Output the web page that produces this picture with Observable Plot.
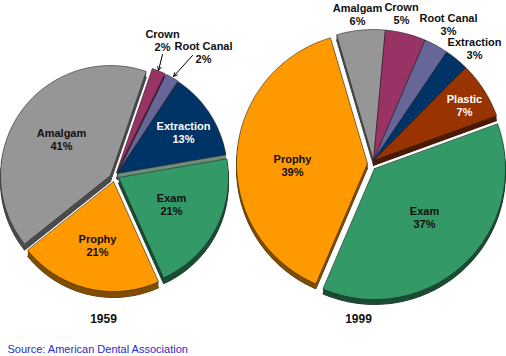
<!DOCTYPE html>
<html>
<head>
<meta charset="utf-8">
<script src="https://cdn.jsdelivr.net/npm/d3@7"></script>
<script src="https://cdn.jsdelivr.net/npm/@observablehq/plot@0.6"></script>
<style>html,body{margin:0;padding:0;background:#fff}svg{display:block}</style>
</head>
<body>
<div id="chart"></div>
<script>
// Data
const categories1959 = ["Amalgam", "Crown", "Root Canal", "Extraction", "Exam", "Prophy"];
const values1959 = [41, 2, 2, 13, 21, 21];
const categories1999 = ["Amalgam", "Crown", "Root Canal", "Extraction", "Plastic", "Exam", "Prophy"];
const values1999 = [6, 5, 3, 3, 7, 37, 39];
const years = ["1959", "1999"];
const source = "Source: American Dental Association";

// Colours
const colorNames = ["Amalgam", "Crown", "Root Canal", "Extraction", "Plastic", "Exam", "Prophy"];
const topColors = ["#969696", "#993366", "#666699", "#003366", "#993300", "#339966", "#ff9900"];
const sideColors = ["#4b4b4b", "#4d1a33", "#33334d", "#001a33", "#4d1a00", "#1a4d33", "#804d00"];
const sideOverride = {"1959 Extraction": "Band"};
const bandColor = "#6f8f7b";

// Layout
const font = "'Liberation Sans', Arial, sans-serif";
const pies = [
  {
    year: "1959", categories: categories1959, values: values1959, radius: 110, depth: 6, start: 231.4,
    apexX: [110, 116, 117, 117, 118, 113],
    apexY: [175, 172, 172.5, 173, 177, 181],
    labelX: [61, 162, 203, 183, 171, 97],
    labelY: [138.5, 40, 52, 131.5, 204, 245],
    yearX: 103, yearY: 319
  },
  {
    year: "1999", categories: categories1999, values: values1999, radius: 131, depth: 5, start: 343.6,
    apexX: [373, 373, 373, 373, 373, 374, 367],
    apexY: [160, 160, 160, 160, 160, 168, 163],
    labelX: [357, 401, 448, 474, 464, 424, 292],
    labelY: [14, 12.5, 23.5, 47.5, 104.5, 216.5, 165],
    yearX: 358, yearY: 319
  }
];
const whiteLabels = ["1959 Extraction", "1999 Plastic"];
const arrows = [
  {x1: 162, y1: 54, x2: 158, y2: 70},
  {x1: 192, y1: 55, x2: 173, y2: 76}
];

const rad = Math.PI / 180;
const topRows = [], sideRows = [], outlineRows = [], labels = [];
for (const p of pies) {
  const arcs = d3.pie().sort(null)
    .startAngle(p.start * rad).endAngle((p.start + 360) * rad)(p.values);
  arcs.forEach((a, i) => {
    const cat = p.categories[i];
    const cx = p.apexX[i], cy = p.apexY[i];
    const n = Math.max(2, Math.ceil((a.endAngle - a.startAngle) / (2 * rad)));
    const poly = [[cx, cy]];
    for (let j = 0; j <= n; j++) {
      const t = a.startAngle + (a.endAngle - a.startAngle) * j / n;
      poly.push([cx + p.radius * Math.sin(t), cy - p.radius * Math.cos(t)]);
    }
    poly.push([cx, cy]);
    const key = p.year + cat;
    const sideCat = sideOverride[`${p.year} ${cat}`] || cat + " side";
    for (const [x, y] of poly) {
      topRows.push({key, cat, x, y});
      outlineRows.push({key, cat: sideCat, x, y: y + p.depth});
    }
    for (let k = p.depth; k >= 1; k--) {
      for (const [x, y] of poly) sideRows.push({key: key + k, cat: sideCat, x, y: y + k});
    }
    labels.push({
      text: `${cat}\n${p.values[i]}%`,
      id: `${p.year} ${cat}`,
      x: p.labelX[i], y: p.labelY[i]
    });
  });
}
const labelOpts = {
  x: "x", y: "y", text: "text", fontFamily: font, fontWeight: "bold", fontSize: 11,
  lineHeight: 1.2, textAnchor: "middle"
};

const chart = Plot.plot({
  width: 506, height: 356, margin: 0,
  x: {domain: [0, 506], range: [0, 506], axis: null},
  y: {domain: [0, 356], range: [0, 356], axis: null},
  color: {
    domain: [...colorNames, ...colorNames.map(c => c + " side"), "Band"],
    range: [...topColors, ...sideColors, bandColor]
  },
  style: {background: "#fff", fontFamily: font},
  marks: [
    Plot.line(outlineRows, {x: "x", y: "y", z: "key", fill: "cat", stroke: "#1a1a1a", strokeWidth: 0.7, curve: "linear"}),
    Plot.line(sideRows, {x: "x", y: "y", z: "key", fill: "cat", stroke: "none", curve: "linear"}),
    Plot.line(topRows, {x: "x", y: "y", z: "key", fill: "cat", stroke: "#222", strokeWidth: 0.7, strokeOpacity: 0.8, curve: "linear"}),
    Plot.text(labels.filter(d => !whiteLabels.includes(d.id)), {...labelOpts, fill: "#111"}),
    Plot.text(labels.filter(d => whiteLabels.includes(d.id)), {...labelOpts, fill: "#fff"}),
    Plot.arrow(arrows, {x1: "x1", y1: "y1", x2: "x2", y2: "y2", stroke: "#000", strokeWidth: 1, headLength: 6, headAngle: 50}),
    Plot.text(pies, {x: "yearX", y: "yearY", text: "year", fontFamily: font, fontWeight: "bold", fontSize: 12, fill: "#111", textAnchor: "middle"}),
    Plot.text([source], {x: [7], y: [349], text: d => d, fontFamily: font, fontSize: 11, fill: "#2a2acc", textAnchor: "start"})
  ]
});
document.getElementById("chart").append(chart);
</script>
</body>
</html>
